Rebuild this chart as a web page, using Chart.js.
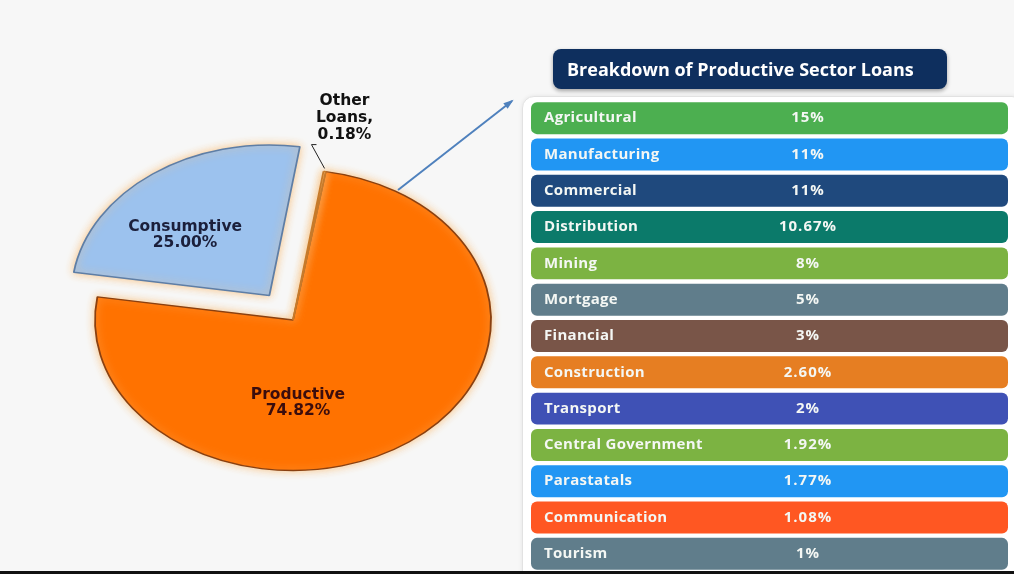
<!DOCTYPE html>
<html>
<head>
<meta charset="utf-8">
<script src="https://cdn.jsdelivr.net/npm/chart.js@4.4.1/dist/chart.umd.min.js"></script>
<style>
  html, body { margin: 0; padding: 0; }
  body { width: 1014px; height: 574px; background: #f7f7f7; position: relative; overflow: hidden; font-family: "Open Sans", sans-serif; }
  #pieChart { position: absolute; left: 0; top: 0; }
  #panel { position: absolute; left: 522px; top: 96px; width: 500px; height: 490px; background: #fff; border: 1px solid #e2e2e2; border-radius: 12px; box-shadow: 0 0 4px rgba(0,0,0,0.08); }
  #tableChart { position: absolute; left: 522px; top: 98px; }
  #title { position: absolute; left: 553px; top: 49px; width: 394px; height: 40px; background: #0e2f5e; border-radius: 8px; box-shadow: 0 2px 4px rgba(0,0,0,0.35); color: #fff; font: bold 18px "Open Sans", sans-serif; line-height: 40px; padding-left: 14px; box-sizing: border-box; white-space: nowrap; }
  #baseLine { position: absolute; left: 0; top: 571px; width: 1014px; height: 3px; background: #111; }
</style>
</head>
<body>
<canvas id="pieChart" width="520" height="574"></canvas>
<div id="panel"></div>
<canvas id="tableChart" width="492" height="476"></canvas>
<div id="title">Breakdown of Productive Sector Loans</div>
<div id="baseLine"></div>
<script>
// loan portfolio split
const loanTypes = ["Productive", "Consumptive", "Other Loans"];
const loanShares = [74.82, 25.00, 0.18];
const loanColors = ["#ff7200", "#9cc2ee", "#f6b26b"];
const loanBorders = ["#8a4010", "#5e7ea6", "#c77a2a"];

// productive sector breakdown
const sectors = [
  "Agricultural", "Manufacturing", "Commercial", "Distribution", "Mining",
  "Mortgage", "Financial", "Construction", "Transport", "Central Government",
  "Parastatals", "Communication", "Tourism"
];
const sectorShares = [
  "15%", "11%", "11%", "10.67%", "8%", "5%", "3%", "2.60%", "2%", "1.92%",
  "1.77%", "1.08%", "1%"
];
const sectorColors = [
  "#4caf50", "#2196f3", "#1f497d", "#0b7a6a", "#7cb342", "#607d8b", "#795548",
  "#e67e22", "#3f51b5", "#7cb342", "#2196f3", "#ff5722", "#607d8b"
];

const tilt = 0.76;
const explode = 40; // pixels the consumptive slice is pulled out

const pieLook = {
  id: "pieLook",
  beforeDatasetsDraw(chart) {
    const arc = chart.getDatasetMeta(0).data[0];
    const ctx = chart.ctx;
    ctx.save();
    ctx.translate(arc.x, arc.y);
    ctx.scale(1, tilt);
    ctx.translate(-arc.x, -arc.y);
    ctx.shadowColor = "rgba(250, 190, 120, 0.9)";
    ctx.shadowBlur = 8;
  },
  afterDatasetsDraw(chart) {
    const ctx = chart.ctx;
    ctx.restore();
    const arc = chart.getDatasetMeta(0).data[0];
    const cx = arc.x, cy = arc.y, r = arc.outerRadius;
    const at = (fx, fy) => [cx + fx * r, cy + fy * r * tilt];

    ctx.save();
    ctx.textAlign = "center";
    ctx.textBaseline = "middle";
    ctx.font = "bold 15.5px 'DejaVu Sans', Verdana, sans-serif";

    let [x, y] = at(0.025, 0.55);
    ctx.fillStyle = "#3b0d0d";
    ctx.fillText(loanTypes[0], x, y - 8);
    ctx.fillText(loanShares[0].toFixed(2) + "%", x, y + 8);

    [x, y] = at(-0.545, -0.565);
    ctx.fillStyle = "#1b1f3b";
    ctx.fillText(loanTypes[1], x, y - 8);
    ctx.fillText(loanShares[1].toFixed(2) + "%", x, y + 8);

    [x, y] = at(0.26, -1.345);
    ctx.fillStyle = "#111";
    ctx.fillText("Other", x, y - 17);
    ctx.fillText("Loans,", x, y);
    ctx.fillText(loanShares[2].toFixed(2) + "%", x, y + 17);

    // leader from the thin slice to its label
    const small = chart.getDatasetMeta(0).data[2];
    const mid = (small.startAngle + small.endAngle) / 2;
    const sx = cx + Math.cos(mid) * small.outerRadius;
    const sy = cy + Math.sin(mid) * small.outerRadius * tilt;
    ctx.strokeStyle = "#222";
    ctx.lineWidth = 1;
    ctx.beginPath();
    ctx.moveTo(sx, sy - 3);
    ctx.lineTo(x - 33, y + 27);
    ctx.lineTo(x - 28, y + 27);
    ctx.stroke();

    // arrow pointing to the breakdown table
    const ax0 = 398, ay0 = 190, ax1 = 512, ay1 = 101;
    ctx.strokeStyle = "#4f81bd";
    ctx.fillStyle = "#4f81bd";
    ctx.lineWidth = 2;
    ctx.beginPath();
    ctx.moveTo(ax0, ay0);
    ctx.lineTo(ax1, ay1);
    ctx.stroke();
    const ang = Math.atan2(ay1 - ay0, ax1 - ax0);
    ctx.beginPath();
    ctx.moveTo(ax1 + 2 * Math.cos(ang), ay1 + 2 * Math.sin(ang));
    ctx.lineTo(ax1 - 9 * Math.cos(ang - 0.4), ay1 - 9 * Math.sin(ang - 0.4));
    ctx.lineTo(ax1 - 9 * Math.cos(ang + 0.4), ay1 - 9 * Math.sin(ang + 0.4));
    ctx.closePath();
    ctx.fill();
    ctx.restore();
  }
};

new Chart(document.getElementById("pieChart"), {
  type: "pie",
  data: {
    labels: loanTypes,
    datasets: [
      {
        data: loanShares,
        backgroundColor: loanColors,
        borderColor: loanBorders,
        borderWidth: 1.8,
        // Chart.js draws a quarter of the offset value
        offset: [0, explode * 4, 0],
        radius: 198
      }
    ]
  },
  options: {
    responsive: false,
    animation: false,
    rotation: 9.5,
    layout: { padding: { left: 66, top: 66 } },
    plugins: {
      legend: { display: false },
      tooltip: { enabled: false }
    }
  },
  plugins: [pieLook]
});

const rowText = {
  id: "rowText",
  afterDatasetsDraw(chart) {
    const ctx = chart.ctx;
    const left = chart.chartArea.left;
    ctx.save();
    ctx.fillStyle = "#f4f7f4";
    ctx.textBaseline = "middle";
    chart.getDatasetMeta(0).data.forEach((bar, i) => {
      ctx.font = "bold 15px 'Open Sans', sans-serif";
      ctx.letterSpacing = "0.3px";
      ctx.textAlign = "left";
      ctx.fillText(sectors[i], left + 13, bar.y);
      ctx.letterSpacing = "1px";
      ctx.textAlign = "center";
      ctx.fillText(sectorShares[i], 286, bar.y);
    });
    ctx.restore();
  }
};

new Chart(document.getElementById("tableChart"), {
  type: "bar",
  data: {
    labels: sectors,
    datasets: [
      {
        data: sectors.map(() => [0, 1]),
        backgroundColor: sectorColors,
        borderRadius: 6,
        borderSkipped: false,
        categoryPercentage: 1,
        barPercentage: 0.88
      }
    ]
  },
  options: {
    indexAxis: "y",
    responsive: false,
    animation: false,
    layout: { padding: { left: 9, right: 6, top: 2, bottom: 2 } },
    scales: {
      x: { display: false, min: 0, max: 1 },
      y: { display: false }
    },
    plugins: {
      legend: { display: false },
      tooltip: { enabled: false }
    }
  },
  plugins: [rowText]
});
</script>
</body>
</html>
